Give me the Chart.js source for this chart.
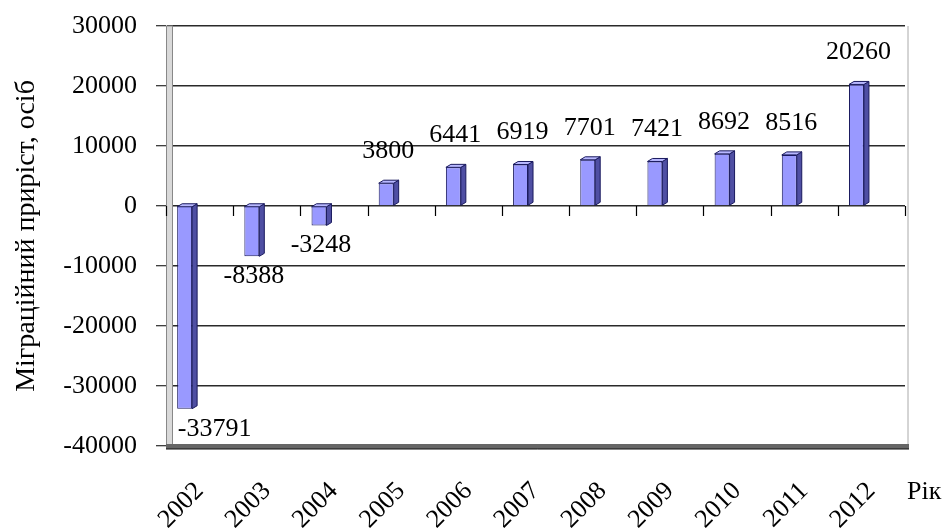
<!DOCTYPE html>
<html>
<head>
<meta charset="utf-8">
<script src="https://cdn.jsdelivr.net/npm/chart.js@4.4.1/dist/chart.umd.min.js"></script>
<style>
html, body { margin: 0; padding: 0; background: #fff; }
#wrap { width: 949px; height: 530px; position: relative; }
</style>
</head>
<body>
<div id="wrap"><canvas id="grafico"></canvas></div>
<script>
// DANI
const roky = ["2002", "2003", "2004", "2005", "2006", "2007", "2008", "2009", "2010", "2011", "2012"];
const pryrist = [-33791, -8388, -3248, 3800, 6441, 6919, 7701, 7421, 8692, 8516, 20260];
const osYMin = -40000;
const osYMax = 30000;
const osYKrok = 10000;
const nazvaOsiY = "Міграційний приріст, осіб";
const nazvaOsiX = "Рік";

const SHRYFT = "Liberation Serif";
const GLYB = 5; // глибина "3D" стовпчика

// 3D-стінка, стовпчики, підписи
const ob3d = {
    id: "ob3d",
    beforeDatasetsDraw(chart) {
        const { ctx, chartArea: a, scales } = chart;
        const y0 = scales.y.getPixelForValue(0);
        const n = roky.length;
        const w = (a.right - a.left) / n;
        ctx.save();
        // ліва стінка
        ctx.fillStyle = "#d9d9d9";
        ctx.fillRect(a.left, a.top, 6, a.bottom - a.top);
        ctx.strokeStyle = "#888";
        ctx.lineWidth = 1;
        ctx.strokeRect(a.left + 0.5, a.top, 6, a.bottom - a.top);
        // права межа
        ctx.strokeStyle = "#aaa";
        ctx.beginPath();
        ctx.moveTo(a.right + 3, a.top);
        ctx.lineTo(a.right + 3, a.bottom);
        ctx.stroke();
        // підлога
        ctx.fillStyle = "#666";
        ctx.fillRect(a.left, a.bottom - 2, a.right - a.left + 4, 5);
        ctx.strokeStyle = "#111";
        ctx.beginPath();
        ctx.moveTo(a.left, a.bottom + 3);
        ctx.lineTo(a.right + 4, a.bottom + 3);
        ctx.stroke();
        // поділки на нульовій лінії
        ctx.strokeStyle = "#000";
        ctx.lineWidth = 1.2;
        for (let i = 0; i <= n; i++) {
            const x = Math.round(a.left + i * w) + 0.5;
            ctx.beginPath();
            ctx.moveTo(x, y0);
            ctx.lineTo(x, y0 + 10);
            ctx.stroke();
        }
        ctx.restore();
    },
    afterDatasetsDraw(chart) {
        const { ctx } = chart;
        const meta = chart.getDatasetMeta(0);
        ctx.save();
        meta.data.forEach((bar, i) => {
            const l = bar.x - bar.width / 2;
            const r = bar.x + bar.width / 2;
            const top = Math.min(bar.y, bar.base);
            const bot = Math.max(bar.y, bar.base);
            ctx.lineWidth = 1;
            ctx.strokeStyle = "#1a1a5e";
            // бокова грань
            ctx.fillStyle = "#4f4fa3";
            ctx.beginPath();
            ctx.moveTo(r, top);
            ctx.lineTo(r + GLYB, top - 3);
            ctx.lineTo(r + GLYB, bot - 3);
            ctx.lineTo(r, bot);
            ctx.closePath();
            ctx.fill();
            ctx.stroke();
            // верхня грань
            ctx.fillStyle = "#b8b8ff";
            ctx.beginPath();
            ctx.moveTo(l, top);
            ctx.lineTo(l + GLYB, top - 3);
            ctx.lineTo(r + GLYB, top - 3);
            ctx.lineTo(r, top);
            ctx.closePath();
            ctx.fill();
            ctx.stroke();

            // підпис значення
            const v = pryrist[i];
            ctx.fillStyle = "#000";
            ctx.font = "26px '" + SHRYFT + "'";
            ctx.textAlign = "center";
            ctx.textBaseline = "middle";
            const ty = v >= 0 ? top - 32 : bot + 20;
            const tx = v < osYMin / 2 ? bar.x + 30 : bar.x + 2;
            ctx.fillText(String(v), tx, ty);
        });
        // назва осі X
        const sx = chart.scales.x;
        ctx.font = "26px '" + SHRYFT + "'";
        ctx.textAlign = "left";
        ctx.textBaseline = "alphabetic";
        ctx.fillText(nazvaOsiX, sx.right + 2, chart.chartArea.bottom + 53);
        ctx.restore();
    }
};

const ctx = document.getElementById("grafico").getContext("2d");

new Chart(ctx, {
    type: "bar",
    data: {
        labels: roky,
        datasets: [{
            data: pryrist,
            backgroundColor: "#9999ff",
            borderColor: "#1a1a5e",
            borderWidth: 1,
            categoryPercentage: 0.89,
            barPercentage: 0.5
        }, {
            // порожній ряд, щоб зсунути стовпчик ліворуч (як у Excel)
            data: roky.map(() => null),
            categoryPercentage: 0.89,
            barPercentage: 0.5
        }]
    },
    options: {
        responsive: true,
        maintainAspectRatio: false,
        animation: false,
        layout: { padding: { top: 26, right: 44, bottom: 0, left: 0 } },
        plugins: {
            legend: { display: false },
            tooltip: { enabled: false }
        },
        scales: {
            x: {
                grid: { display: false, drawTicks: false },
                border: { display: false },
                ticks: {
                    color: "#000",
                    font: { family: SHRYFT, size: 26 },
                    minRotation: 45,
                    maxRotation: 45,
                    padding: 30,
                    autoSkip: false
                },
                afterFit(s) { s.height = 84; s.paddingTop = 0; s.paddingBottom = 0; }
            },
            y: {
                min: osYMin,
                max: osYMax,
                ticks: {
                    stepSize: osYKrok,
                    color: "#000",
                    font: { family: SHRYFT, size: 26 },
                    padding: 19,
                    callback: v => String(v)
                },
                grid: {
                    color: "#2a2a2a",
                    lineWidth: 1.5,
                    tickLength: 10,
                    tickColor: "#000",
                    tickWidth: 1
                },
                border: { display: true, color: "#000", width: 1 },
                title: {
                    display: true,
                    text: nazvaOsiY,
                    color: "#000",
                    font: { family: SHRYFT, size: 28 },
                    padding: { top: 10, bottom: 0 }
                },
                afterFit(s) { s.width = 166; s.paddingTop = 0; s.paddingBottom = 0; }
            }
        }
    },
    plugins: [ob3d]
});
</script>
</body>
</html>
